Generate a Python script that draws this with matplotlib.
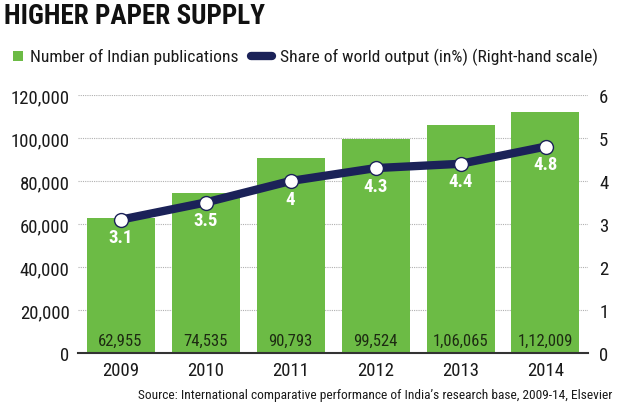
import matplotlib
matplotlib.use("Agg")
import matplotlib.pyplot as plt
from matplotlib.lines import Line2D
from matplotlib.patches import Rectangle

plt.rcParams['font.family'] = ['Roboto Condensed', 'DejaVu Sans']

years = ['2009', '2010', '2011', '2012', '2013', '2014']
publications = [62955, 74535, 90793, 99524, 106065, 112009]
pub_labels = ['62,955', '74,535', '90,793', '99,524', '1,06,065', '1,12,009']
share = [3.1, 3.5, 4.0, 4.3, 4.4, 4.8]
share_labels = ['3.1', '3.5', '4', '4.3', '4.4', '4.8']
left_ticks = [0, 20000, 40000, 60000, 80000, 100000, 120000]
left_labels = ['0', '20,000', '40,000', '60,000', '80,000', '100,000', '120,000']

green = '#6cbb45'
navy = '#1b2258'
text_col = '#1a1a1a'

W, H = 621, 414
fig = plt.figure(figsize=(6.21, 4.14), dpi=100)
ax = fig.add_axes([78 / W, 60 / H, 510 / W, 258 / H])
ax2 = ax.twinx()

x = list(range(len(years)))
ax.bar(x, publications, width=0.8, color=green, zorder=2)
for xi, v, lab in zip(x, publications, pub_labels):
    ax.text(xi, 2500, lab, ha='center', va='bottom', fontsize=12, color='#1d2b12', zorder=3)

ax.set_xlim(-0.5, 5.5)
ax.set_ylim(0, 120000)
ax.set_yticks(left_ticks)
ax.set_yticklabels(left_labels, fontsize=13.5, color=text_col)
ax.set_xticks(x)
ax.set_xticklabels(years, fontsize=13.5, color=text_col)
ax.yaxis.grid(True, color='#b0b0b0', linestyle=(0, (1, 1)), linewidth=0.8, zorder=0)
ax.set_axisbelow(True)
ax.tick_params(axis='both', length=0, pad=6)
for s in ['left', 'right', 'top']:
    ax.spines[s].set_visible(False)
ax.spines['bottom'].set_color('#333333')
ax.spines['bottom'].set_linewidth(1.5)

ax2.plot(x, share, color=navy, linewidth=6, zorder=4, solid_capstyle='round')
ax2.plot(x, share, linestyle='none', marker='o', markersize=10, markerfacecolor='white',
         markeredgecolor=navy, markeredgewidth=1, zorder=5)
for xi, v, lab in zip(x, share, share_labels):
    ax2.text(xi, v - 0.2, lab, ha='center', va='top', fontsize=13.5, fontweight='bold',
             color='white', zorder=6)
ax2.set_ylim(0, 6)
ax2.set_yticks(range(7))
ax2.set_yticklabels([str(i) for i in range(7)], fontsize=13.5, color=text_col)
ax2.tick_params(axis='y', length=0, pad=8)
for s in ['left', 'right', 'top', 'bottom']:
    ax2.spines[s].set_visible(False)

fig.text(4 / W, 1 - 17 / H, 'HIGHER PAPER SUPPLY', fontsize=19.5, fontweight='bold',
         color='#111111', va='center', ha='left')

# legend, drawn by hand so the key shapes match
ly = 1 - 57 / H
fig.patches.append(Rectangle((13 / W, ly - 5 / H), 10 / W, 10 / H, transform=fig.transFigure,
                             facecolor=green, edgecolor='none'))
fig.text(30 / W, ly, 'Number of Indian publications', fontsize=12.6, color=text_col,
         va='center', ha='left')
fig.lines.append(Line2D([251 / W, 272 / W], [ly, ly], transform=fig.transFigure, color=navy,
                        linewidth=6, solid_capstyle='round'))
fig.text(280 / W, ly, 'Share of world output (in%) (Right-hand scale)', fontsize=12.6,
         color=text_col, va='center', ha='left')

fig.text(612 / W, 1 - 396 / H,
         'Source: International comparative performance of India\u2019s research base, 2009-14, Elsevier',
         fontsize=9.6, color=text_col, ha='right', va='center')

fig.savefig('out.png', dpi=100)
